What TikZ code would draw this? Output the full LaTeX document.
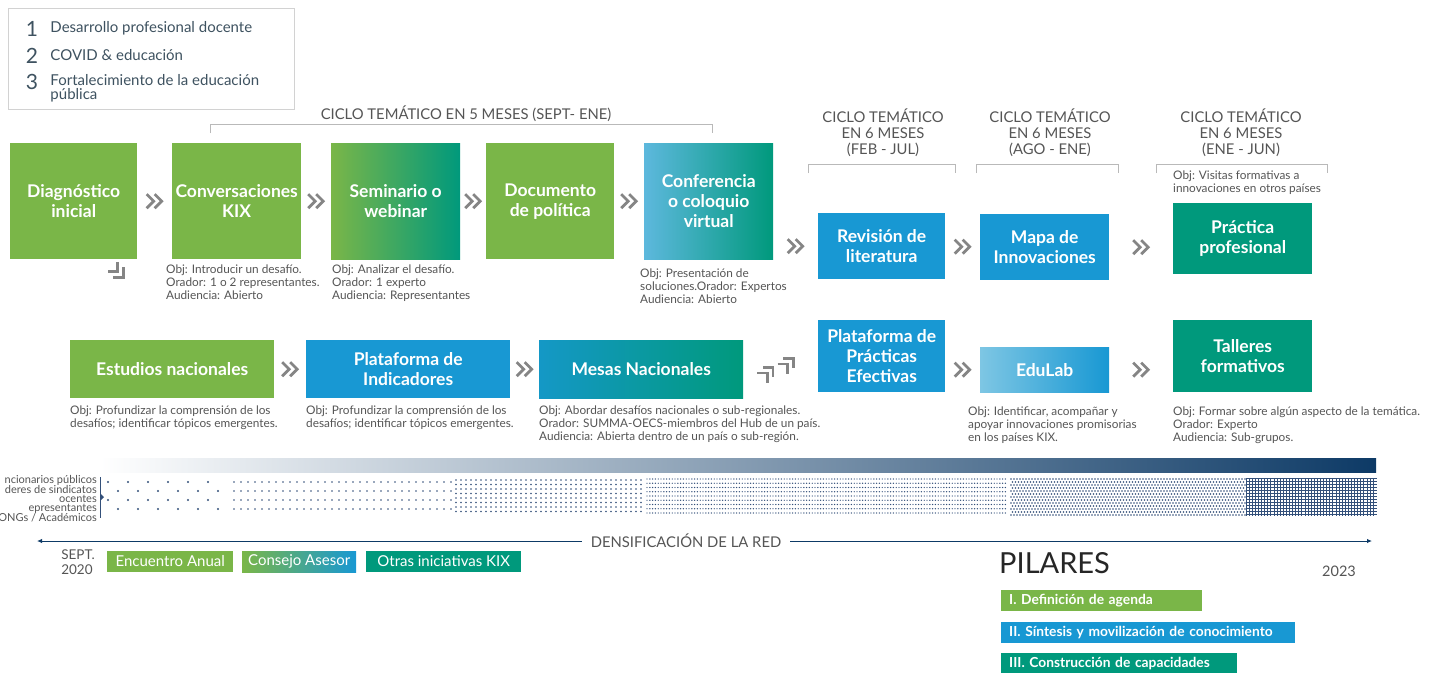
\documentclass[tikz,border=0pt]{standalone}
\usepackage{fontspec}
\setmainfont{Lato}
\usetikzlibrary{positioning,calc,arrows.meta}

\definecolor{kixgreen}{HTML}{7AB648}
\definecolor{kixteal}{HTML}{00997C}
\definecolor{kixblue}{HTML}{1898D3}
\definecolor{kixlight}{HTML}{5DB8DD}
\definecolor{kixgray}{HTML}{555555}
\definecolor{kixslate}{HTML}{3E5260}
\definecolor{kixnavy}{HTML}{0D3A66}
\definecolor{kixdots}{HTML}{33507A}
\definecolor{kixchev}{HTML}{858585}
\definecolor{bandmid}{HTML}{8589AD}

\tikzset{
  box/.style={anchor=north west, inner sep=1pt, align=center, text=white,
    font=\fontsize{17.5}{20}\selectfont\bfseries},
  obj/.style={anchor=north west, inner sep=0pt, align=left, text=kixgray,
    font=\fontsize{11.8}{12.8}\selectfont},
  ciclo/.style={align=center, text=kixgray, inner sep=0pt,
    font=\fontsize{14.8}{16}\selectfont},
  num/.style={inner sep=0pt, text=kixslate, font=\fontsize{21}{21}\selectfont},
  tema/.style={inner sep=0pt, align=left, text=kixslate,
    font=\fontsize{15}{14}\selectfont},
  brack/.style={draw=gray!55, line width=0.7pt},
  chevline/.style={draw=kixchev, line width=2.8pt, line join=miter},
  chevs/.pic={\draw[chevline] (-8,-7)--(-1,0)--(-8,7) (0,-7)--(7,0)--(0,7);},
  dotrow/.style={draw=kixdots, line cap=round},
  evento/.style={anchor=west, inner sep=0pt, minimum height=21, text=white,
    font=\fontsize{15}{15}\selectfont},
  pilar/.style={anchor=north west, inner xsep=8pt, inner ysep=0pt, minimum height=21,
    align=left, text=white, font=\fontsize{13.8}{15}\selectfont\bfseries},
  grupo/.style={anchor=east, inner sep=0pt, text=kixgray, font=\fontsize{11}{10}\selectfont},
  timeline/.style={draw=kixnavy, line width=1pt, -{Latex[length=5pt,width=4.5pt]}}
}

\begin{document}
\begin{tikzpicture}[x=1pt,y=-1pt]
\useasboundingbox[fill=white] (0,0) rectangle (1439,672);
%
% leyenda de temas
\node[draw=gray!35, line width=0.6pt, anchor=north west, minimum width=286, minimum height=101] (leyenda) at (8,8) {};
\node[num] (n1) at (32,29) {1};
\node[num] (n2) at (32,56) {2};
\node[num] (n3) at (32,82) {3};
\node[tema, right=12pt of n1, yshift=1pt] (t1) {Desarrollo profesional docente};
\node[tema, right=12pt of n2, yshift=1pt] (t2) {COVID \& educación};
\node[tema, right=12pt of n3, yshift=-6pt] (t3) {Fortalecimiento de la educación\\pública};
%
% ciclos tematicos
\node[ciclo] (ciclo5) at (466,114) {CICLO TEMÁTICO EN 5 MESES (SEPT- ENE)};
\draw[brack] (210,133) -- (210,124) -- (712,124) -- (712,133);
\node[ciclo] (cicloA) at (883,133) {CICLO TEMÁTICO\\EN 6 MESES\\(FEB - JUL)};
\draw[brack] (808,173) -- (808,164) -- (955,164) -- (955,173);
\node[ciclo] (cicloB) at (1050,133) {CICLO TEMÁTICO\\EN 6 MESES\\(AGO - ENE)};
\draw[brack] (976,173) -- (976,164) -- (1118,164) -- (1118,173);
\node[ciclo] (cicloC) at (1241,133) {CICLO TEMÁTICO\\EN 6 MESES\\(ENE - JUN)};
\draw[brack] (1156,173) -- (1156,164) -- (1327,164) -- (1327,173);
%
% fila superior
\node[box, fill=kixgreen, minimum width=127, minimum height=116] (diag) at (10,143) {Diagnóstico\\inicial};
\node[box, fill=kixgreen, minimum width=129, minimum height=116] (conv) at (172,143) {Conversaciones\\KIX};
\node[box, left color=kixgreen, right color=kixteal, minimum width=129, minimum height=116] (sem) at (331,143) {Seminario o\\webinar};
\node[box, fill=kixgreen, minimum width=128, minimum height=116] (doc) at (486,143) {Documento\\de política};
\node[box, left color=kixlight, right color=kixteal, minimum width=129, minimum height=116] (conf) at (644,143) {Conferencia\\o coloquio\\virtual};
\node[box, fill=kixblue, minimum width=127, minimum height=66] (rev) at (818,213) {Revisión de\\literatura};
\node[box, fill=kixblue, minimum width=129, minimum height=66] (mapa) at (980,214) {Mapa de\\Innovaciones};
\node[box, fill=kixteal, minimum width=139, minimum height=71] (prac) at (1173,203) {Práctica\\profesional};
%
\node[obj] (oConv) at (166,265) {Obj: Introducir un desafío.\\Orador: 1 o 2 representantes.\\Audiencia: Abierto};
\node[obj] (oSem) at (332,265) {Obj: Analizar el desafío.\\Orador: 1 experto\\Audiencia: Representantes};
\node[obj] (oConf) at (640,269) {Obj: Presentación de\\soluciones.Orador: Expertos\\Audiencia: Abierto};
\node[obj] (oPrac) at (1173,171) {Obj: Visitas formativas a\\innovaciones en otros países};
%
% fila inferior
\node[box, fill=kixgreen, minimum width=204, minimum height=58] (est) at (70,340) {Estudios nacionales};
\node[box, fill=kixblue, minimum width=204, minimum height=58] (ind) at (306,340) {Plataforma de\\Indicadores};
\node[box, left color=kixblue!85!kixteal, right color=kixteal, minimum width=204, minimum height=58] (mesas) at (539,340) {Mesas Nacionales};
\node[box, fill=kixblue, minimum width=127, minimum height=72] (ppe) at (818,320) {Plataforma de\\Prácticas\\Efectivas};
\node[box, left color=kixlight!80!white, right color=kixblue, minimum width=129, minimum height=45] (edu) at (980,347) {EduLab};
\node[box, fill=kixteal, minimum width=139, minimum height=72] (tall) at (1173,320) {Talleres\\formativos};
%
\node[obj] (oEst) at (70,406) {Obj: Profundizar la comprensión de los\\desafíos; identificar tópicos emergentes.};
\node[obj] (oInd) at (306,406) {Obj: Profundizar la comprensión de los\\desafíos; identificar tópicos emergentes.};
\node[obj] (oMesas) at (539,406) {Obj: Abordar desafíos nacionales o sub-regionales.\\Orador: SUMMA-OECS-miembros del Hub de un país.\\Audiencia: Abierta dentro de un país o sub-región.};
\node[obj] (oEdu) at (968,407) {Obj: Identificar, acompañar y\\apoyar innovaciones promisorias\\en los países KIX.};
\node[obj] (oTall) at (1173,407) {Obj: Formar sobre algún aspecto de la temática.\\Orador: Experto\\Audiencia: Sub-grupos.};
%
% flechas dobles
\path ($(diag.east)!0.5!(conv.west)$) pic {chevs};
\path ($(conv.east)!0.5!(sem.west)$) pic {chevs};
\path ($(sem.east)!0.5!(doc.west)$) pic {chevs};
\path ($(doc.east)!0.5!(conf.west)$) pic {chevs};
\path ($(conf.east |- rev.west)!0.5!(rev.west)$) pic {chevs};
\path ($(rev.east)!0.5!(mapa.west)$) pic {chevs};
\path ($(mapa.east)!0.5!(mapa.east -| prac.west)$) pic {chevs};
\pic[rotate=-45] at ([xshift=-19pt,yshift=-13pt]diag.south east) {chevs};
\path ($(est.east)!0.5!(ind.west)$) pic {chevs};
\path ($(ind.east)!0.5!(mesas.west)$) pic {chevs};
\pic[rotate=45] at ($(mesas.east)!0.33!(mesas.east -| ppe.west)+(0,3)$) {chevs};
\pic[rotate=45] at ($(mesas.east)!0.6!(mesas.east -| ppe.west)+(0,-6)$) {chevs};
\path ($(ppe.east |- edu.west)!0.5!(edu.west)$) pic {chevs};
\path ($(edu.east)!0.5!(edu.east -| tall.west)$) pic {chevs};
%
% densificacion de la red
\shade[left color=white, middle color=bandmid, right color=kixnavy] (100,458) rectangle (1376,472);
\draw[kixdots, line width=0.8pt] (100,477) -- (100,518);
\fill[kixdots] (100,493) -- (104,497) -- (100,501) -- cycle;
\node[grupo] (g1) at (97,480) {ncionarios públicos};
\node[grupo] (g2) at (97,489.5) {deres de sindicatos};
\node[grupo] (g3) at (97,499) {ocentes};
\node[grupo] (g4) at (97,508.5) {epresentantes};
\node[grupo] (g5) at (97,518) {ONGs / Académicos};
%
\foreach \y/\x in {482/108,491/118,500/108,509/118}
  \draw[dotrow, line width=2.2pt, dash pattern=on 0pt off 20pt] (\x,\y) -- (228,\y);
\foreach \y in {482,491,500,509}
  \draw[dotrow, line width=1.8pt, dash pattern=on 0pt off 7pt] (234,\y) -- (452,\y);
\foreach \y in {480,484.5,489,493.5,498,502.5,507,511.5}
  \draw[dotrow, line width=1.7pt, dash pattern=on 0pt off 5pt] (456,\y) -- (643,\y);
\foreach \i in {0,...,8}
  \draw[dotrow, line width=1.4pt, dash pattern=on 0pt off 2.8pt] (647,{479+4.25*\i}) -- (1008,{479+4.25*\i});
\foreach \i in {0,...,12}
  \draw[dotrow, line width=1.7pt, dash pattern=on 0pt off 3pt] ({1011+1.5*mod(\i,2)},{479+3*\i}) -- (1245,{479+3*\i});
\foreach \i in {0,...,12}
  \draw[kixdots, line width=0.8pt] (1246,{478.5+3*\i}) -- (1377,{478.5+3*\i});
\foreach \i in {0,...,41}
  \draw[kixdots, line width=0.8pt] ({1246+3.1*\i},478) -- ({1246+3.1*\i},515.5);
%
\node[ciclo, inner xsep=9pt] (dens) at (686,541) {DENSIFICACIÓN DE LA RED};
\coordinate (inicio) at (37,541);
\coordinate (fin) at (1372,541);
\draw[timeline] (dens.west) -- (inicio);
\draw[timeline] (dens.east) -- (fin);
%
\node[align=left, inner sep=0pt, text=kixgray, font=\fontsize{13.5}{14.5}\selectfont] (sept) at (78,562) {SEPT.\\2020};
\node[evento, fill=kixgreen, minimum width=126] (encuentro) at (107,561.5) {Encuentro Anual};
\node[evento, left color=kixgreen, right color=kixblue, minimum width=114] (consejo) at (242,561.5) {Consejo Asesor};
\node[evento, fill=kixteal, minimum width=155] (otras) at (366,561.5) {Otras iniciativas KIX};
%
% pilares
\node[anchor=west, inner sep=0pt, text=black!85, font=\fontsize{29}{29}\selectfont] (pilares) at (999,563) {PILARES};
\node[inner sep=0pt, text=kixgray, font=\fontsize{14.5}{14}\selectfont] (fin2023) at (1339,571) {2023};
\node[pilar, fill=kixgreen, text width=185] (p1) at (1001,590) {\mbox{I. Definición de agenda}};
\node[pilar, fill=kixblue, text width=278] (p2) at (1001,622) {\mbox{II. Síntesis y movilización de conocimiento}};
\node[pilar, fill=kixteal, text width=220] (p3) at (1001,653) {\mbox{III. Construcción de capacidades}};
\end{tikzpicture}
\end{document}
